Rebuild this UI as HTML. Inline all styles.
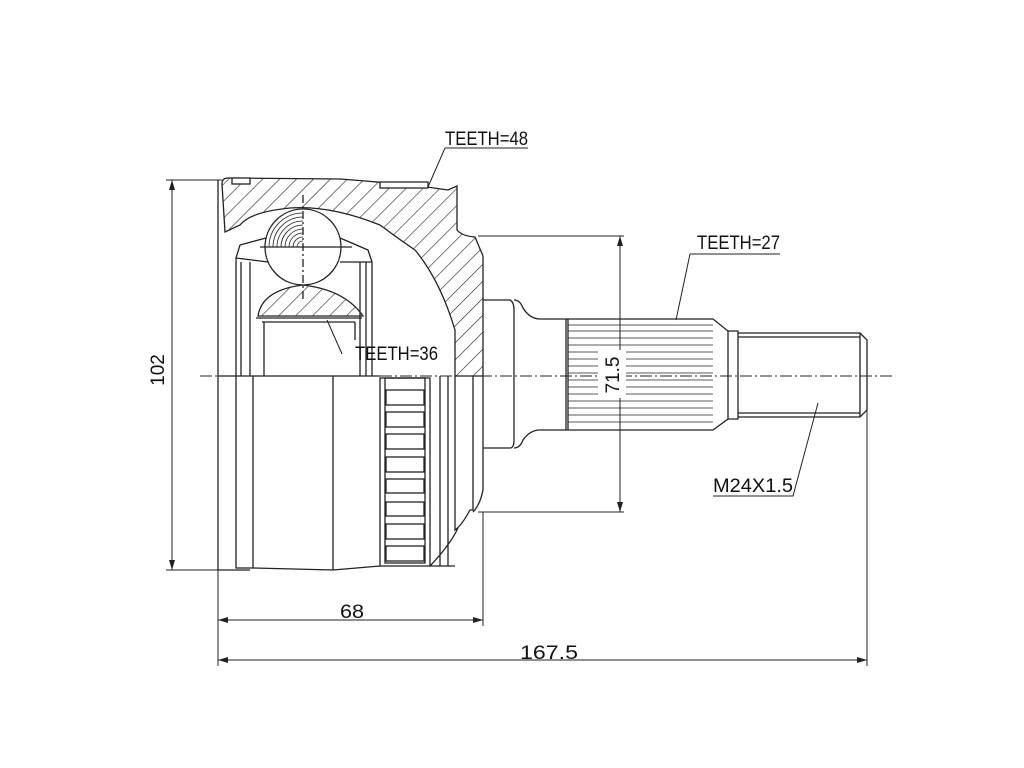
<!DOCTYPE html>
<html><head><style>body{margin:0;background:#fff}svg{display:block}text{font-family:"Liberation Sans",sans-serif;fill:#111}</style></head><body>
<svg width="1024" height="768" viewBox="0 0 1024 768" xmlns="http://www.w3.org/2000/svg">
<defs>
<pattern id="h" width="12" height="12" patternUnits="userSpaceOnUse" patternTransform="rotate(45)"><line x1="0" y1="0" x2="0" y2="12" stroke="#222" stroke-width="1.2"/></pattern>
</defs>
<g fill="none" stroke="#222" stroke-width="1.3">
<path d="M222,184 Q222,178 228,178 L340,179 Q380,182 420,186 L448,190 L457,186 L457,230 Q462,236 475,237 L483,256 L483,376 L455,376 L455,330 Q440,280 415,250 Q400,240 380,225 Q330,205 290,208 Q250,212 240,225 L225,232 Z" fill="url(#h)"/>
<rect x="232" y="178" width="18" height="6" fill="#fff"/>
<rect x="380" y="182" width="48" height="6" fill="#fff"/>
<circle cx="303" cy="247" r="38" fill="#fff"/>
<g stroke-width="0.8"><path d="M303,213 A34,34 0 0 0 269,247 M303,217 A30,30 0 0 0 273,247 M303,221 A26,26 0 0 0 277,247 M303,225 A22,22 0 0 0 281,247 M303,229 A18,18 0 0 0 285,247 M303,233 A14,14 0 0 0 289,247 M303,237 A10,10 0 0 0 293,247 M303,241 A6,6 0 0 0 297,247"/></g>
<line x1="260" y1="247" x2="352" y2="247"/>
<line x1="303" y1="195" x2="303" y2="300" stroke-dasharray="8,3,2,3"/>
<path d="M266,238 L240,245 L236,258 L236,376 M340,238 L368,250 L372,262 L372,376 M236,258 L268,262 M340,262 L372,262 M241,262 L241,376 M250,262 L250,376 M360,262 L360,376 M366,262 L366,376"/>
<path d="M258,316 Q262,290 303,285 Q345,290 363,316 Z" fill="url(#h)"/>
<path d="M256,318 L362,318 M262,322 L355,322 M264,322 L264,376 M355,322 L355,340"/>
<path d="M218,180 L218,570 M236,376 L236,568 L253,568 M253,376 L253,568 L333,570 L380,566 M333,376 L333,570 M218,570 L250,570"/>
<line x1="218" y1="376" x2="380" y2="376"/>
<rect x="380" y="378" width="50" height="188"/>
<rect x="385" y="378" width="40" height="185"/>
<g>
<rect x="386" y="390" width="38" height="15"/><rect x="386" y="412" width="38" height="15"/><rect x="386" y="434" width="38" height="15"/><rect x="386" y="457" width="38" height="15"/><rect x="386" y="479" width="38" height="14"/><rect x="386" y="502" width="38" height="14"/><rect x="386" y="524" width="38" height="15"/><rect x="386" y="546" width="38" height="15"/>
</g>
<path d="M440,376 L440,566 M448,376 L448,566 M455,376 L455,530 Q462,525 470,510 L473,510 L473,376 M483,376 L483,490 Q480,505 473,512 M430,566 Q450,545 458,528 M430,566 L455,566"/>
<path d="M483,300 L510,300 Q514,302 514,310 L514,440 Q514,448 510,448 L483,448"/>
<path d="M514,300 Q520,300 523,308 Q530,319 540,319 L566,319 L566,430 L540,430 Q530,430 523,440 Q520,448 514,448"/>
<path d="M566,319 L713,319 L728,331 L728,419 L713,430 L566,430"/>
<g stroke-width="0.7"><path d="M568,325H713M568,331H713M568,338H713M568,345H713M568,352H713M568,359H713M568,366H713M568,373H713M568,380H713M568,387H713M568,394H713M568,401H713M568,408H713M568,415H713M568,422H713"/></g>
<line x1="568" y1="319" x2="568" y2="430"/>
<path d="M728,331 L738,331 L738,419 L728,419 M738,333 L860,333 L867,340 L867,410 L860,417 L738,417 M738,337 L860,337 M738,413 L860,413 M860,333 L860,417"/>
</g>
<line x1="200" y1="376" x2="895" y2="376" stroke="#222" stroke-width="1" stroke-dasharray="12,3,2,3"/>
<g stroke="#222" stroke-width="1" fill="none">
<path d="M166,180 L222,180 M166,570 L222,570 M172,180 L172,570"/>
<path d="M478,236 L624,236 M478,512 L624,512 M620,236 L620,512"/>
<path d="M218,570 L218,666 M483,512 L483,626 M218,620 L483,620 M867,410 L867,666 M218,660 L867,660"/>
<path d="M445,148 L528,148 M445,148 L428,187"/>
<path d="M690,254 L780,254 M690,254 L676,320"/>
<path d="M342,354 L327,320"/>
<path d="M713,496 L793,496 L818,403"/>
</g>
<g fill="#222">
<path d="M172,180 l-3,10 h6z M172,570 l-3,-10 h6z M620,236 l-3,10 h6z M620,512 l-3,-10 h6z M218,620 l10,-3 v6z M483,620 l-10,-3 v6z M218,660 l10,-3 v6z M867,660 l-10,-3 v6z"/>
</g>
<rect x="598" y="350" width="28" height="48" fill="#fff"/>
<g font-size="19">
<text x="445" y="145" textLength="83" lengthAdjust="spacingAndGlyphs">TEETH=48</text>
<text x="697" y="249" textLength="83" lengthAdjust="spacingAndGlyphs">TEETH=27</text>
<text x="355" y="360" textLength="83" lengthAdjust="spacingAndGlyphs">TEETH=36</text>
<text x="713" y="492" textLength="80" lengthAdjust="spacingAndGlyphs">M24X1.5</text>
<text x="340" y="618" textLength="24" lengthAdjust="spacingAndGlyphs">68</text>
<text x="520" y="659" textLength="58" lengthAdjust="spacingAndGlyphs">167.5</text>
<text transform="translate(164,370) rotate(-90)" text-anchor="middle">102</text>
<text transform="translate(619,375) rotate(-90)" text-anchor="middle">71.5</text>
</g>
</svg>
</body></html>
